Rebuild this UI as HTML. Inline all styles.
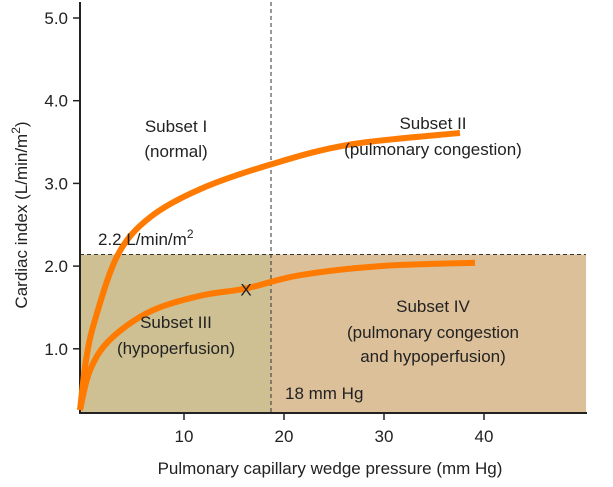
<!DOCTYPE html>
<html><head><meta charset="utf-8"><style>
body{margin:0;background:#fff}
svg text{font-family:"Liberation Sans Narrow","Liberation Sans",sans-serif;fill:#222;font-size:17px}
</style></head><body>
<svg width="613" height="482">
<g id="g"></g>
</svg>
<script>
const yTicks=[1.0,2.0,3.0,4.0,5.0];
const xTicks=[10,20,30,40];
const upperP=[-0.4,0.2,1.1,3.4,6.6,11.6,18.7,26.6,37.6];
const upperCI=[0.26,0.86,1.35,2.14,2.59,2.93,3.23,3.47,3.61];
const lowerP=[-0.4,0.6,2.6,6.6,11.6,16.2,21.6,29.6,39.1];
const lowerCI=[0.26,0.74,1.11,1.45,1.64,1.73,1.89,2.0,2.04];
const markerP=16.2, markerCI=1.73;
const pcwpThreshold=18.7, ciThreshold=2.14;
const X=p=>84+p*10, Y=c=>431.5-c*82.7;
const NS="http://www.w3.org/2000/svg", g=document.getElementById('g');
function mk(t,a,txt){const e=document.createElementNS(NS,t);for(const k in a)e.setAttribute(k,a[k]);if(txt!=null)e.textContent=txt;g.appendChild(e);return e;}
let r=mk('rect',{x:80,y:Y(ciThreshold),width:X(pcwpThreshold)-80,height:413-Y(ciThreshold),fill:'#cec092'});


r=mk('rect',{x:X(pcwpThreshold),y:Y(ciThreshold),width:586-X(pcwpThreshold),height:413-Y(ciThreshold),fill:'#dcc099'});


let l=mk('line',{x1:80,x2:586,y1:Y(ciThreshold),y2:Y(ciThreshold),stroke:'#333','stroke-dasharray':'4,3','stroke-width':1});


l=mk('line',{x1:X(pcwpThreshold),x2:X(pcwpThreshold),y1:2,y2:413,stroke:'#333','stroke-dasharray':'4,3','stroke-width':1});


l=mk('line',{x1:80,x2:80,y1:2,y2:414,stroke:'#222','stroke-width':2});


l=mk('line',{x1:79,x2:587,y1:413,y2:413,stroke:'#222','stroke-width':2});


yTicks.forEach(v=>{
 const t=mk('line',{x1:73,x2:80,y1:Y(v),y2:Y(v),stroke:'#222','stroke-width':1.5});
 
 
 const s=mk('text',{x:68,y:Y(v)+6,'text-anchor':'end'},v.toFixed(1));
 
 
});
xTicks.forEach(v=>{
 const t=mk('line',{x1:X(v),x2:X(v),y1:413,y2:420,stroke:'#222','stroke-width':1.5});
 
 
 const s=mk('text',{x:X(v),y:442,'text-anchor':'middle'},v);
 
 
});
function path(P,C){const pts=P.map((p,i)=>[X(p),Y(C[i])]);let d='M'+pts[0];
 for(let i=0;i<pts.length-1;i++){const p0=pts[i-1]||pts[i],p1=pts[i],p2=pts[i+1],p3=pts[i+2]||p2;
 d+=` C${p1[0]+(p2[0]-p0[0])/6},${p1[1]+(p2[1]-p0[1])/6} ${p2[0]-(p3[0]-p1[0])/6},${p2[1]-(p3[1]-p1[1])/6} ${p2[0]},${p2[1]}`;}return d;}
let c=mk('path',{d:path(upperP,upperCI),fill:'none',stroke:'#ff7a00','stroke-width':6,'stroke-linecap':'butt'});


c=mk('path',{d:path(lowerP,lowerCI),fill:'none',stroke:'#ff7a00','stroke-width':6,'stroke-linecap':'butt'});


let m=mk('text',{x:X(markerP),y:Y(markerCI)+7,'text-anchor':'middle','font-size':'18'},'X');


const labels=[[176,132,'Subset I','subset-i-label'],[176,157,'(normal)','subset-i-desc'],[433,129,'Subset II','subset-ii-label'],[433,155,'(pulmonary congestion)','subset-ii-desc'],
[176,328,'Subset III','subset-iii-label'],[176,354,'(hypoperfusion)','subset-iii-desc'],[433,312,'Subset IV','subset-iv-label'],[433,338,'(pulmonary congestion','subset-iv-desc-1'],[433,362,'and hypoperfusion)','subset-iv-desc-2']];
labels.forEach(a=>{const s=mk('text',{x:a[0],y:a[1],'text-anchor':'middle'},a[2]);
 
 });
let s=mk('text',{x:285,y:399},'18 mm Hg');


s=mk('text',{x:98,y:245},'2.2 L/min/m');


let sp=document.createElementNS(NS,'tspan');sp.setAttribute('dy','-7');sp.setAttribute('font-size','12');sp.textContent='2';s.appendChild(sp);
s=mk('text',{x:330,y:474,'text-anchor':'middle'},'Pulmonary capillary wedge pressure (mm Hg)');


s=mk('text',{x:0,y:0,'text-anchor':'middle',transform:'translate(27,215) rotate(-90)'},'Cardiac index (L/min/m');


sp=document.createElementNS(NS,'tspan');sp.setAttribute('dy','-7');sp.setAttribute('font-size','12');sp.textContent='2';s.appendChild(sp);
sp=document.createElementNS(NS,'tspan');sp.setAttribute('dy','7');sp.textContent=')';s.appendChild(sp);
</script>
</body></html>
